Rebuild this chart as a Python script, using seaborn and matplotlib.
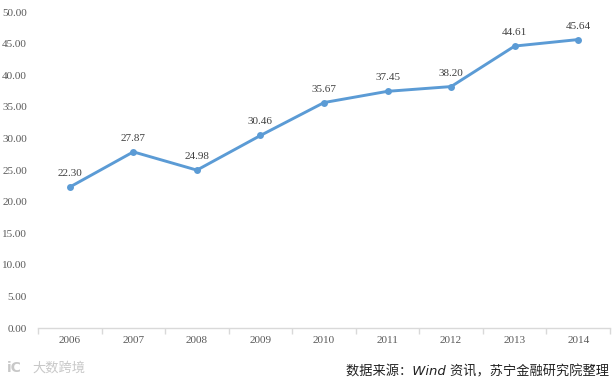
import matplotlib
matplotlib.use("Agg")
import matplotlib.pyplot as plt
import pandas as pd
import seaborn as sns

years = ["2006", "2007", "2008", "2009", "2010", "2011", "2012", "2013", "2014"]
values = [22.30, 27.87, 24.98, 30.46, 35.67, 37.45, 38.20, 44.61, 45.64]
y_ticks = [0, 5, 10, 15, 20, 25, 30, 35, 40, 45, 50]
source_note = "数据来源：Wind 资讯，苏宁金融研究院整理"
watermark = "大数跨境"

sns.set_theme(style="white")
plt.rcParams["font.family"] = ["Liberation Serif", "Noto Sans CJK SC", "DejaVu Sans"]

df = pd.DataFrame({"year": years, "value": values})
fig, ax = plt.subplots(figsize=(6.15, 3.81), dpi=100)
fig.subplots_adjust(left=38 / 615, right=610 / 615, top=1 - 12 / 381, bottom=1 - 328 / 381)

sns.lineplot(data=df, x="year", y="value", ax=ax, color="#5b9bd5", linewidth=2.1,
             marker="o", markersize=5, markeredgewidth=0, sort=False)

ax.set_xlim(-0.5, len(years) - 0.5)
ax.set_ylim(0, 50)
ax.set_yticks(y_ticks)
ax.set_yticklabels([f"{t:.2f}" for t in y_ticks])
ax.set_xlabel("")
ax.set_ylabel("")
for side in ["top", "right", "left"]:
    ax.spines[side].set_visible(False)
ax.spines["bottom"].set_color("#d9d9d9")
ax.spines["bottom"].set_linewidth(1)

# tick marks sit between the categories
ax.set_xticks([i - 0.5 for i in range(len(years) + 1)], minor=True)
ax.tick_params(axis="x", which="minor", length=4, width=1, color="#d9d9d9", bottom=True)
ax.tick_params(axis="x", which="major", length=0, pad=6, labelsize=8, labelcolor="#595959")
ax.tick_params(axis="y", length=0, pad=8, labelsize=8, labelcolor="#595959")

for x, v in zip(years, values):
    ax.annotate(f"{v:.2f}", (x, v), xytext=(0, 6.5), textcoords="offset points", ha="center",
                va="bottom", fontsize=8, color="#404040")

fig.text(609 / 615, 1 - 372 / 381, source_note, ha="right", va="center", fontsize=9.5,
         style="italic", color="#222222", family=["DejaVu Sans", "Noto Sans CJK SC"])
fig.text(7 / 615, 1 - 368 / 381, "iC", ha="left", va="center", fontsize=10,
         color="#c8c8c8", family=["DejaVu Sans"], weight="bold")
fig.text(32 / 615, 1 - 368 / 381, watermark, ha="left", va="center", fontsize=9.5,
         color="#c8c8c8", family=["Noto Sans CJK SC", "DejaVu Sans"])

fig.savefig("out.png", dpi=100)
